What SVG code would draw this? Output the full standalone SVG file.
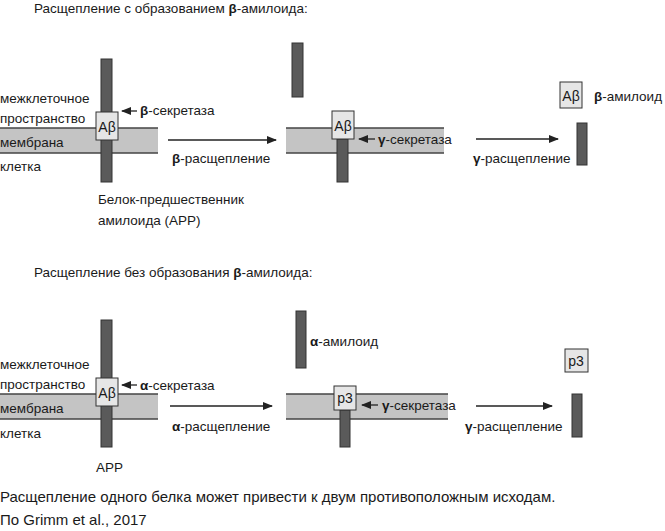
<svg xmlns="http://www.w3.org/2000/svg" width="665" height="531" viewBox="0 0 665 531">
<defs>
<style>
text{font-family:"Liberation Sans","DejaVu Sans",sans-serif;font-size:13.5px;fill:#1a1a1a}
.b{font-weight:bold}
.mem{fill:#c4c4c4;stroke:none}
.ml{stroke:#444;stroke-width:1.3}
.bar{fill:#5a5a5a;stroke:#333;stroke-width:1}
.box{fill:#e6e6e6;stroke:#333;stroke-width:1}
.bx{font-size:14px}
.cap{font-size:15px}
</style>
<marker id="ah" markerWidth="10" markerHeight="8" refX="9" refY="4" orient="auto" markerUnits="userSpaceOnUse"><path d="M0,0 L10,4 L0,8 Z" fill="#222"/></marker>
</defs>
<rect width="665" height="531" fill="#fff"/>
<text x="34" y="13">Расщепление с образованием <tspan class="b">β</tspan>-амилоида:</text>
<text x="34" y="277">Расщепление без образования <tspan class="b">β</tspan>-амилоида:</text>

<g id="membranes">
<rect class="mem" x="0" y="128" width="158" height="25"/><line class="ml" x1="0" y1="128" x2="158" y2="128"/><line class="ml" x1="0" y1="153" x2="158" y2="153"/>
<rect class="mem" x="286" y="128" width="158" height="25"/><line class="ml" x1="286" y1="128" x2="444" y2="128"/><line class="ml" x1="286" y1="153" x2="444" y2="153"/>
<rect class="mem" x="0" y="394" width="158" height="25"/><line class="ml" x1="0" y1="394" x2="158" y2="394"/><line class="ml" x1="0" y1="419" x2="158" y2="419"/>
<rect class="mem" x="286" y="394" width="162" height="25"/><line class="ml" x1="286" y1="394" x2="448" y2="394"/><line class="ml" x1="286" y1="419" x2="448" y2="419"/>
</g>

<g id="labels-left">
<text x="0" y="103">межклеточное</text><text x="0" y="123">пространство</text><text x="0" y="147">мембрана</text><text x="0" y="171">клетка</text>
<text x="0" y="369">межклеточное</text><text x="0" y="389">пространство</text><text x="0" y="413">мембрана</text><text x="0" y="438">клетка</text>
</g>

<g id="app1"><rect class="bar" x="101" y="59" width="11" height="123"/><rect class="box" x="96" y="112" width="22" height="28"/><text class="bx" x="107" y="132" text-anchor="middle">Aβ</text></g>
<g id="app1-label"><text x="98" y="204">Белок-предшественник</text><text x="98" y="225">амилоида (APP)</text></g>
<g id="stage2"><rect class="bar" x="292" y="43" width="11" height="54"/><rect class="bar" x="337" y="139" width="11" height="43"/><rect class="box" x="332" y="111" width="22" height="28"/><text class="bx" x="343" y="131" text-anchor="middle">Aβ</text></g>
<g id="stage3"><rect class="box" x="560" y="82" width="22" height="26"/><text class="bx" x="571" y="101" text-anchor="middle">Aβ</text><text x="594" y="101"><tspan class="b">β</tspan>-амилоид</text><rect class="bar" x="577" y="123" width="10" height="42"/></g>

<g id="app2"><rect class="bar" x="101" y="320" width="11" height="127"/><rect class="box" x="96" y="378" width="22" height="28"/><text class="bx" x="107" y="398" text-anchor="middle">Aβ</text><text x="96" y="472">APP</text></g>
<g id="stage2b"><rect class="bar" x="296" y="311" width="10" height="57"/><text x="310" y="346"><tspan class="b">α</tspan>-амилоид</text><rect class="bar" x="340" y="410" width="10" height="37"/><rect class="box" x="334" y="386" width="22" height="24"/><text class="bx" x="345" y="403" text-anchor="middle">p3</text></g>
<g id="stage3b"><rect class="box" x="565" y="349" width="23" height="23"/><text class="bx" x="576" y="366" text-anchor="middle">p3</text><rect class="bar" x="572" y="394" width="10" height="43"/></g>

<g id="connectors" stroke="#222" stroke-width="1.3" fill="none">
<line x1="137" y1="111" x2="122" y2="111" marker-end="url(#ah)"/>
<line x1="168" y1="140" x2="276" y2="140" marker-end="url(#ah)"/>
<line x1="375" y1="139" x2="359" y2="139" marker-end="url(#ah)"/>
<line x1="476" y1="139" x2="558" y2="139" marker-end="url(#ah)"/>
<line x1="137" y1="385" x2="122" y2="385" marker-end="url(#ah)"/>
<line x1="170" y1="406" x2="272" y2="406" marker-end="url(#ah)"/>
<line x1="378" y1="405" x2="362" y2="405" marker-end="url(#ah)"/>
<line x1="476" y1="406" x2="552" y2="406" marker-end="url(#ah)"/>
</g>
<g id="conn-labels">
<text x="140" y="115"><tspan class="b">β</tspan>-секретаза</text>
<text x="172" y="163"><tspan class="b">β</tspan>-расщепление</text>
<text x="378" y="144"><tspan class="b">γ</tspan>-секретаза</text>
<text x="473" y="163"><tspan class="b">γ</tspan>-расщепление</text>
<text x="140" y="390"><tspan class="b">α</tspan>-секретаза</text>
<text x="172" y="431"><tspan class="b">α</tspan>-расщепление</text>
<text x="382" y="410"><tspan class="b">γ</tspan>-секретаза</text>
<text x="465" y="431"><tspan class="b">γ</tspan>-расщепление</text>
</g>
<text class="cap" x="0" y="502">Расщепление одного белка может привести к двум противоположным исходам.</text>
<text class="cap" x="0" y="525">По Grimm et al., 2017</text>
</svg>
